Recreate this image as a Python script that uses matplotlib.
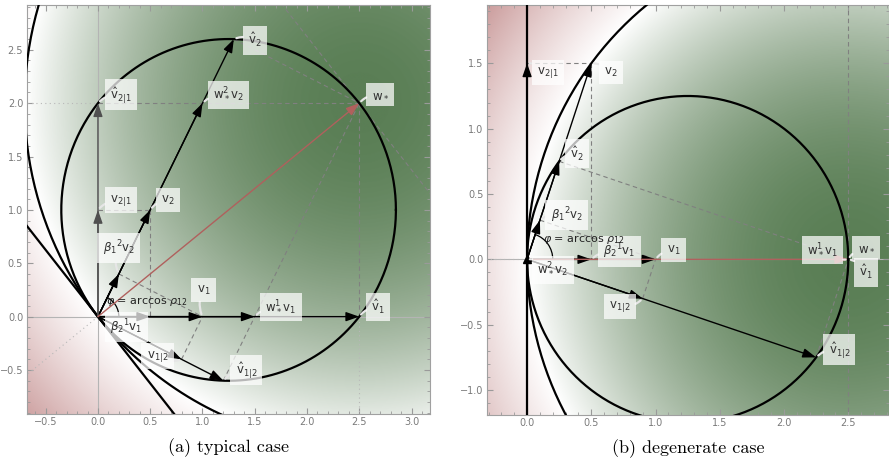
"""Two-panel geometry sketch: typical vs degenerate case."""

import matplotlib.pyplot as plt
import numpy as np
from matplotlib.colors import LinearSegmentedColormap
from matplotlib.patches import Arc
from matplotlib.ticker import FuncFormatter, MultipleLocator, AutoMinorLocator

plt.rcParams["mathtext.fontset"] = "dejavusans"

# ---- panel (a): typical case --------------------------------------------
a_names = ["v1", "v2", "w*", "v1hat", "v2hat", "v21", "v21hat",
           "v12", "v12hat", "b12v2", "b21v1", "w1v1", "w2v2"]
a_x = [1.0, 0.5, 2.5, 2.5, 1.3, 0.0, 0.0, 0.8, 1.2, 0.2, 0.5, 1.5, 1.0]
a_y = [0.0, 1.0, 2.0, 0.0, 2.6, 1.0, 2.0, -0.4, -0.6, 0.4, 0.0, 0.0, 2.0]
a_circle_t = [1.0, 2.0]
a_xlim = (-0.682, 3.177)
a_ylim = (-0.912, 2.92)

# ---- panel (b): degenerate case -----------------------------------------
b_names = a_names
b_x = [1.0, 0.5, 2.5, 2.5, 0.25, 0.0, 0.0, 0.9, 2.25, 0.1, 0.5, 2.5, 0.0]
b_y = [0.0, 1.5, 0.0, 0.0, 0.75, 1.5, 0.0, -0.3, -0.75, 0.3, 0.0, 0.0, 0.0]
b_circle_t = [1.0, 2.0]
b_xlim = (-0.314, 2.817)
b_ylim = (-1.191, 1.946)

# arrows drawn from the origin, grouped by colour
a_arrows_black = ["b21v1", "v1", "w1v1", "v1hat", "b12v2", "v2", "w2v2",
                  "v2hat", "v12", "v12hat"]
a_arrows_grey = ["v21", "v21hat"]
b_arrows_black = ["b21v1", "v1", "b12v2", "v2hat", "v2", "v21", "v12", "v12hat"]
b_arrows_grey = []

a_dashed = [("v21", "v2"), ("v2", "b21v1"), ("b12v2", "v1"), ("v12", "v1"),
            ("v21hat", "w*"), ("v2hat", "w*"), ("v12hat", "w*"), ("v1hat", "w*")]
b_dashed = [("v21", "v2"), ("v2", "b21v1"), ("b12v2", "v1"), ("v12", "v1"),
            ("v2hat", "w*"), ("v12hat", "w*")]

# label text and where its box sits
a_labels = {
    "v2hat": (r"$\hat{\mathrm{v}}_2$", 1.50, 2.59),
    "v21hat": (r"$\hat{\mathrm{v}}_{2|1}$", 0.22, 2.08),
    "w2v2": (r"$\mathrm{w}_*^2\mathrm{v}_2$", 1.25, 2.08),
    "w*": (r"$\mathrm{w}_*$", 2.70, 2.08),
    "v21": (r"$\mathrm{v}_{2|1}$", 0.22, 1.09),
    "v2": (r"$\mathrm{v}_2$", 0.67, 1.09),
    "b12v2": (r"$\beta_1{}^2\mathrm{v}_2$", 0.20, 0.64),
    "v1": (r"$\mathrm{v}_1$", 1.01, 0.25),
    "w1v1": (r"$\mathrm{w}_*^1\mathrm{v}_1$", 1.75, 0.09),
    "v1hat": (r"$\hat{\mathrm{v}}_1$", 2.68, 0.09),
    "b21v1": (r"$\beta_2{}^1\mathrm{v}_1$", 0.27, -0.10),
    "v12": (r"$\mathrm{v}_{1|2}$", 0.57, -0.37),
    "v12hat": (r"$\hat{\mathrm{v}}_{1|2}$", 1.42, -0.50),
}
b_labels = {
    "v21": (r"$\mathrm{v}_{2|1}$", 0.16, 1.43),
    "v2": (r"$\mathrm{v}_2$", 0.65, 1.43),
    "v2hat": (r"$\hat{\mathrm{v}}_2$", 0.39, 0.81),
    "b12v2": (r"$\beta_1{}^2\mathrm{v}_2$", 0.31, 0.34),
    "b21v1": (r"$\beta_2{}^1\mathrm{v}_1$", 0.72, 0.06),
    "v1": (r"$\mathrm{v}_1$", 1.14, 0.07),
    "w1v1": (r"$\mathrm{w}_*^1\mathrm{v}_1$", 2.30, 0.07),
    "w*": (r"$\mathrm{w}_*$", 2.64, 0.09),
    "v1hat": (r"$\hat{\mathrm{v}}_1$", 2.64, -0.10),
    "w2v2": (r"$\mathrm{w}_*^2\mathrm{v}_2$", 0.20, -0.08),
    "v12": (r"$\mathrm{v}_{1|2}$", 0.72, -0.36),
    "v12hat": (r"$\hat{\mathrm{v}}_{1|2}$", 2.43, -0.69),
}
a_phi_pos = (0.47, 0.14)
b_phi_pos = (0.44, 0.155)

BG_CMAP = LinearSegmentedColormap.from_list(
    "pink_white_green", ["#c48f8f", "#ffffff", "#5a7e55"])
DASH = dict(color="#808080", lw=0.8, ls=(0, (4, 3)), zorder=2)
DOT = dict(color="#b8b8b8", lw=0.8, ls=(0, (1, 3)), zorder=2)


def tick_fmt(value, _pos):
    return f"{value:.1f}".replace("-", "\u2212")


def draw_arrow(ax, end, color, lw=1.0, zorder=4):
    ax.annotate("", xy=end, xytext=(0.0, 0.0),
                arrowprops=dict(arrowstyle="-|>,head_length=0.8,head_width=0.28",
                                color=color, lw=lw, shrinkA=0, shrinkB=0,
                                mutation_scale=10),
                zorder=zorder)


def draw_panel(ax, names, xs, ys, circle_t, xlim, ylim, arrows_black,
               arrows_grey, dashed, labels, phi_pos, caption):
    pts = {n: np.array([x, y]) for n, x, y in zip(names, xs, ys)}
    w = pts["w*"]
    ww = w @ w

    # background: 2 w.w* - |w|^2, scaled by |w*|^2
    gx = np.linspace(xlim[0], xlim[1], 500)
    gy = np.linspace(ylim[0], ylim[1], 500)
    X, Y = np.meshgrid(gx, gy)
    F = (2 * (X * w[0] + Y * w[1]) - (X ** 2 + Y ** 2)) / ww
    ax.imshow(F, extent=(xlim[0], xlim[1], ylim[0], ylim[1]), origin="lower",
              aspect="auto", cmap=BG_CMAP, vmin=-1, vmax=1,
              interpolation="bilinear", zorder=0)

    ax.axhline(0, color="#b4b4b4", lw=0.8, zorder=1)
    ax.axvline(0, color="#b4b4b4", lw=0.8, zorder=1)

    # circles through the origin, centred on the w* direction
    theta = np.linspace(0, 2 * np.pi, 600)
    for t in circle_t:
        c = t * w / 2
        r = np.hypot(*c)
        ax.plot(c[0] + r * np.cos(theta), c[1] + r * np.sin(theta),
                color="black", lw=1.6, zorder=3)
    perp = np.array([-w[1], w[0]]) / np.sqrt(ww)
    ax.plot([-10 * perp[0], 10 * perp[0]], [-10 * perp[1], 10 * perp[1]],
            color="black", lw=1.6, zorder=3)

    # tangent at w* and dotted extensions
    ax.plot([w[0] - 10 * perp[0], w[0] + 10 * perp[0]],
            [w[1] - 10 * perp[1], w[1] + 10 * perp[1]], **DASH)
    ax.plot([0, -5 * w[0]], [0, -5 * w[1]], **DOT)
    if w[1] != 0:
        ax.plot([xlim[0], 0], [w[1], w[1]], **DOT)
        ax.plot([w[0], w[0]], [0, ylim[0]], **DOT)

    for p, q in dashed:
        ax.plot([pts[p][0], pts[q][0]], [pts[p][1], pts[q][1]], **DASH)

    for n in sorted(arrows_black, key=lambda k: -np.hypot(*pts[k])):
        draw_arrow(ax, pts[n], "black")
    for n in sorted(arrows_grey, key=lambda k: -np.hypot(*pts[k])):
        draw_arrow(ax, pts[n], "#505050")
    draw_arrow(ax, w, "#b0605d", zorder=4.5)
    if np.allclose(pts["w2v2"], 0):
        ax.plot(0, 0, marker="^", ms=6, color="black", zorder=4.6)

    # angle between v1 and v2
    ang = np.degrees(np.arctan2(pts["v2"][1], pts["v2"][0]))
    ax.add_patch(Arc((0, 0), 0.4, 0.4, theta1=0, theta2=ang, color="black",
                     lw=0.9, zorder=4))
    ax.text(*phi_pos, r"$\varphi$ = arccos $\rho_{12}$", fontsize=8,
            color="#222222", ha="center", va="center", zorder=7)

    for n, (txt, lx, ly) in labels.items():
        ax.annotate(txt, xy=pts[n], xytext=(lx, ly), fontsize=8.5,
                    color="#303030", ha="center", va="center", zorder=6,
                    bbox=dict(boxstyle="square,pad=0.45", fc="white",
                              ec="none", alpha=0.72),
                    arrowprops=dict(arrowstyle="-", color="#e6e6e6", lw=1.6,
                                    shrinkA=0, shrinkB=2,
                                    connectionstyle="arc3,rad=0.25"))

    ax.set_xlim(*xlim)
    ax.set_ylim(*ylim)
    for axis in (ax.xaxis, ax.yaxis):
        axis.set_major_locator(MultipleLocator(0.5))
        axis.set_minor_locator(AutoMinorLocator(5))
        axis.set_major_formatter(FuncFormatter(tick_fmt))
    ax.tick_params(which="both", direction="in", top=True, right=True,
                   color="#9a9a9a", labelcolor="#7a7a7a", labelsize=7)
    ax.tick_params(which="major", length=4, pad=2.5)
    ax.tick_params(which="minor", length=2)
    for spine in ax.spines.values():
        spine.set_color("#a0a0a0")
        spine.set_linewidth(0.8)
    ax.text(0.5, -0.083, caption, transform=ax.transAxes, ha="center",
            va="center", fontsize=13, family="cmr10")


fig = plt.figure(figsize=(8.89, 4.65), dpi=100)
ax_a = fig.add_axes([0.030, 0.1097, 0.4537, 0.8796])
ax_b = fig.add_axes([0.5475, 0.1075, 0.4525, 0.8817])

draw_panel(ax_a, a_names, a_x, a_y, a_circle_t, a_xlim, a_ylim,
           a_arrows_black, a_arrows_grey, a_dashed, a_labels, a_phi_pos,
           "(a) typical case")
draw_panel(ax_b, b_names, b_x, b_y, b_circle_t, b_xlim, b_ylim,
           b_arrows_black, b_arrows_grey, b_dashed, b_labels, b_phi_pos,
           "(b) degenerate case")
fig.savefig("out.png", dpi=100)
